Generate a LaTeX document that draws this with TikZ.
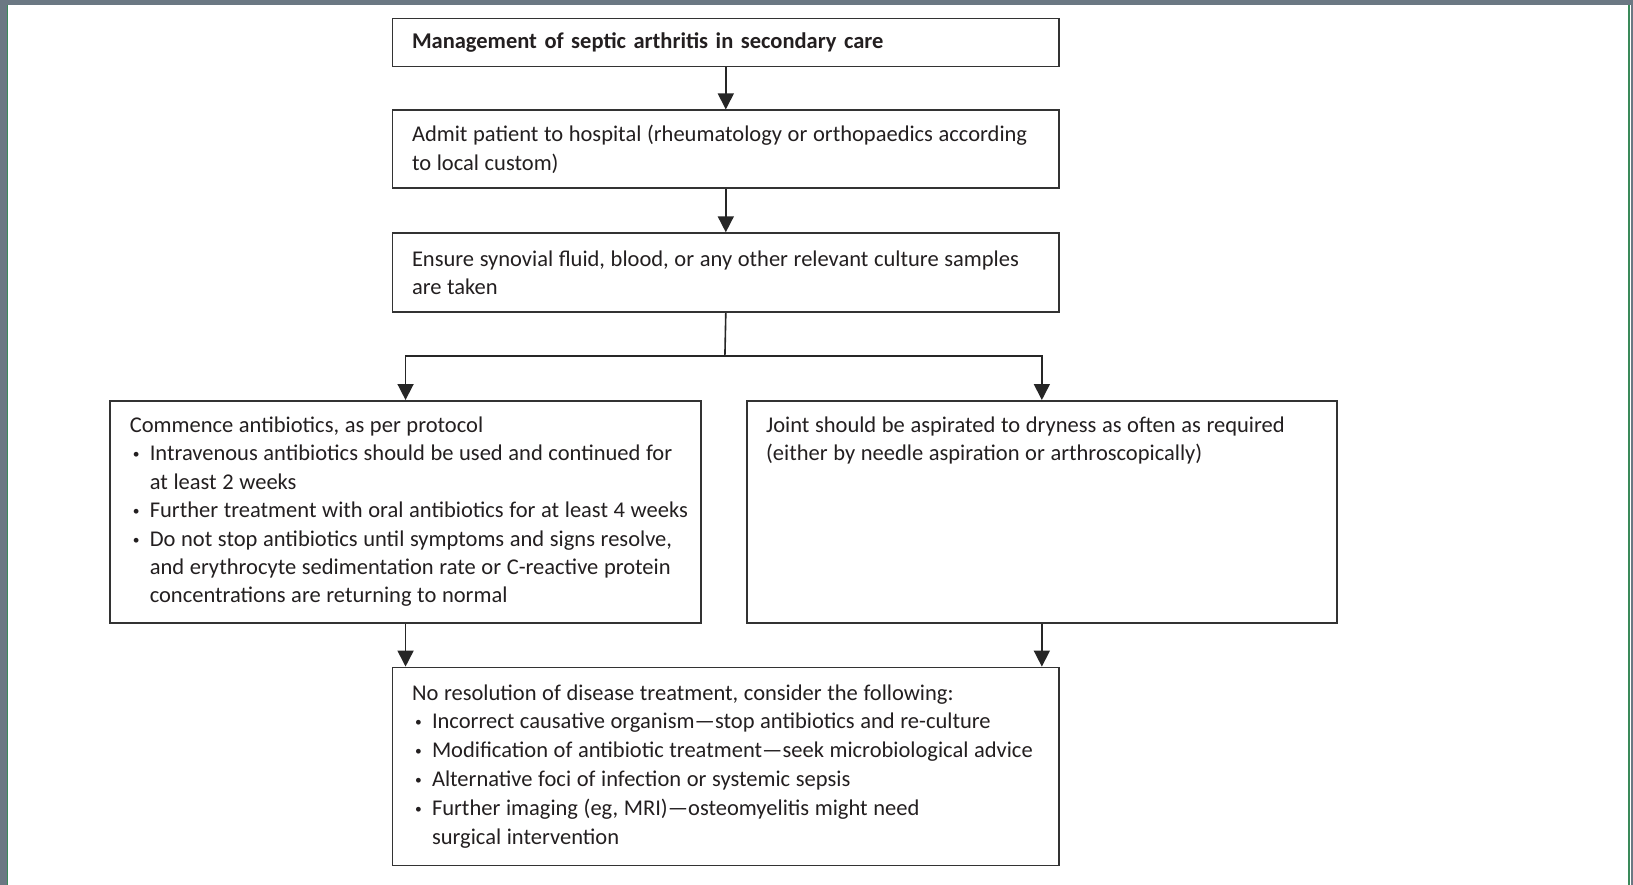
\documentclass[tikz,border=0pt]{standalone}
\usepackage{graphicx}
\usepackage{fontspec}
\setmainfont{Carlito}
\usetikzlibrary{arrows.meta}

\definecolor{framegrey}{HTML}{6B7883}
\definecolor{framegreen}{HTML}{3A8A5A}
\definecolor{ink}{HTML}{231F20}

% one line of text, a bullet line and its continuation
\newcommand{\one}[1]{\mbox{\spaceskip=0.25em plus 0.05em\relax #1}}
\newcommand{\bul}[1]{\makebox[20pt][l]{\hspace{3pt}\raisebox{2pt}{\scalebox{0.6}{\textbullet}}}\one{#1}}
\newcommand{\cont}[1]{\hspace*{20pt}\one{#1}}

\begin{document}
\begin{tikzpicture}[x=1pt,y=-1pt,
  stepbox/.style={draw=black!80,line width=1.8pt,rectangle,anchor=north west,
    align=left,inner xsep=19.5pt,inner ysep=0pt,text=ink,
    font=\fontsize{22.5}{28.4}\selectfont},
  flow/.style={line width=1.6pt,draw=black!85,-{Triangle[length=16pt,width=16pt]}}]
\useasboundingbox (0,0) rectangle (1633,885);
\fill[white] (0,0) rectangle (1633,885);

% frame of the page
\fill[framegrey] (0,0) rectangle (1633,5);
\fill[framegrey] (0,0) rectangle (7,885);
\fill[framegrey] (1631,0) rectangle (1633,885);
\draw[framegreen,line width=1.4pt] (7.5,5) -- (7.5,885);
\draw[framegreen,line width=2.5pt] (1629,5) -- (1629,885);

% boxes
\node[stepbox,text width=627.6pt,minimum width=666.6pt,minimum height=47.9pt] (title) at (391.6,17.7)
  {\mbox{\textbf{Management of septic arthritis in secondary care}}};
\node[stepbox,text width=627.6pt,minimum width=666.6pt,minimum height=78.1pt] (admit) at (391.6,109.4)
  {\one{Admit patient to hospital (rheumatology or orthopaedics according}\\
   \one{to local custom)}};
\node[stepbox,text width=627.6pt,minimum width=666.6pt,minimum height=79.1pt] (culture) at (391.6,232.3)
  {\one{Ensure synovial fluid, blood, or any other relevant culture samples}\\
   \one{are taken}};
\node[stepbox,text width=551.5pt,minimum width=590.5pt,minimum height=221.8pt] (abx) at (109.4,400)
  {\one{Commence antibiotics, as per protocol}\\
   \bul{Intravenous antibiotics should be used and continued for}\\
   \cont{at least 2 weeks}\\
   \bul{Further treatment with oral antibiotics for at least 4 weeks}\\
   \bul{Do not stop antibiotics until symptoms and signs resolve,}\\
   \cont{and erythrocyte sedimentation rate or C-reactive protein}\\
   \cont{concentrations are returning to normal}};
\node[stepbox,text width=551.5pt,minimum width=590.5pt,minimum height=221.8pt] (joint) at (745.7,400)
  {\parbox[c][190pt][t]{551.5pt}{\raggedright
   \one{Joint should be aspirated to dryness as often as required}\\
   \one{(either by needle aspiration or arthroscopically)}}};
\node[stepbox,text width=627.6pt,minimum width=666.6pt,minimum height=197.9pt,
  font=\fontsize{22.5}{28.9}\selectfont] (nores) at (391.6,666.6)
  {\one{No resolution of disease treatment, consider the following:}\\
   \bul{Incorrect causative organism---stop antibiotics and re-culture}\\
   \bul{Modification of antibiotic treatment---seek microbiological advice}\\
   \bul{Alternative foci of infection or systemic sepsis}\\
   \bul{Further imaging (eg, MRI)---osteomyelitis might need}\\
   \cont{surgical intervention}};

% connectors
\coordinate (split) at (724.9,356.2);
\draw[flow] (title) -- (admit);
\draw[flow] (admit) -- (culture);
\draw[line width=1.6pt,draw=black!85] (culture.south) -- (split);
\draw[flow] (split) -| (abx.north);
\draw[flow] (split) -| (joint.north);
\draw[flow] (abx.south) -- (abx.south |- nores.north);
\draw[flow] (joint.south) -- (joint.south |- nores.north);
\end{tikzpicture}
\end{document}
